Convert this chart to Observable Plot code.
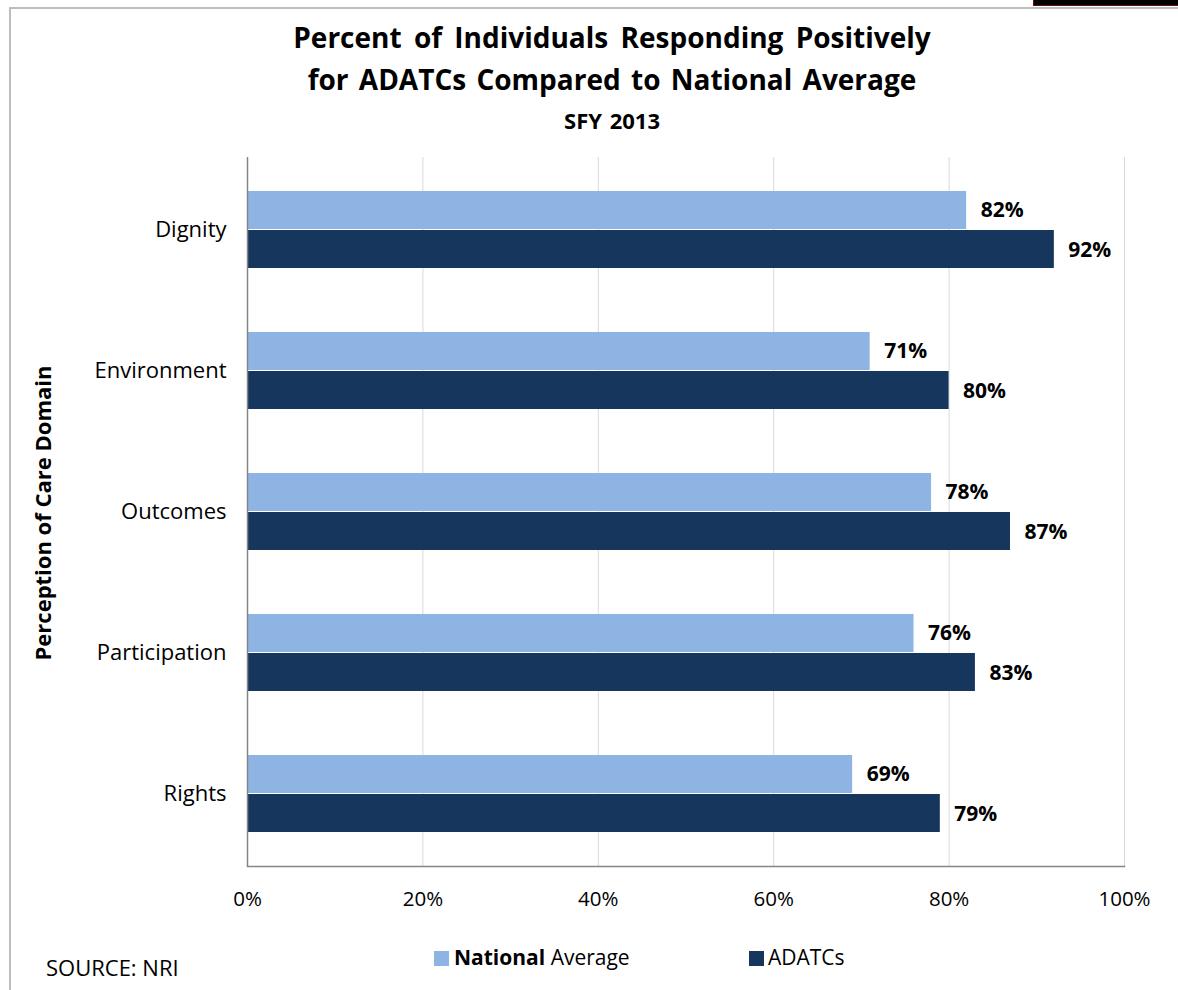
<!DOCTYPE html>
<html>
<head>
<meta charset="utf-8">
<script src="https://cdn.jsdelivr.net/npm/d3@7"></script>
<script src="https://cdn.jsdelivr.net/npm/@observablehq/plot@0.6"></script>
<style>
  html, body { margin: 0; padding: 0; background: #fff; }
  body { width: 1178px; height: 990px; overflow: hidden; position: relative; font-family: "Open Sans", Lato, sans-serif; color: #000; }
  .abs { position: absolute; white-space: nowrap; }
  #frame { position: absolute; left: 9px; top: 7px; width: 1300px; height: 1100px; border-left: 2px solid #bdbdbd; border-top: 2px solid #bdbdbd; }
  #corner { position: absolute; left: 1033px; top: 0; width: 150px; height: 5px; background: #000; border-left: 1px solid #6b0a0a; border-bottom: 1px solid #6b0a0a; }
  #chart { position: absolute; left: 0; top: 0; }
  .title { left: 12px; width: 1200px; text-align: center; font-weight: 700; }
  .swatch { position: absolute; width: 15px; height: 15px; }
</style>
</head>
<body>
<div id="frame"></div>
<div id="corner"></div>
<div id="chart"></div>
<div class="abs title" style="top:18px; font-size:28px; line-height:38px; word-spacing:5px;">Percent of Individuals Responding Positively</div>
<div class="abs title" style="top:60px; font-size:28px; line-height:38px; word-spacing:3px;">for ADATCs Compared to National Average</div>
<div class="abs title" style="top:105px; font-size:22px; line-height:30px; word-spacing:2px;">SFY 2013</div>
<div class="abs" style="left:42px; top:513px; transform: translate(-50%,-50%) rotate(-90deg); font-size:22px; font-weight:700;">Perception of Care Domain</div>
<div class="abs" style="left:46px; top:953px; font-size:22px; line-height:28px;">SOURCE: NRI</div>
<div id="legend"></div>
<script>
// Survey domains and percent responding positively, SFY 2013
const categories = ["Dignity", "Environment", "Outcomes", "Participation", "Rights"];
const seriesNames = ["National Average", "ADATCs"];
const nationalAverage = [82, 71, 78, 76, 69];
const adatcs = [92, 80, 87, 83, 79];
const xTicks = [0, 20, 40, 60, 80, 100];

const colors = ["#8db4e2", "#17365d"];
const font = "'Open Sans', Lato, sans-serif";

const nationalRows = categories.map((c, i) => ({domain: c, series: seriesNames[0], value: nationalAverage[i]}));
const adatcRows = categories.map((c, i) => ({domain: c, series: seriesNames[1], value: adatcs[i]}));

const chart = Plot.plot({
  width: 1178,
  height: 990,
  marginLeft: 247,
  marginRight: 54,
  marginTop: 157,
  marginBottom: 124,
  style: {fontFamily: font, background: "transparent", color: "#000"},
  x: {domain: [0, 100], label: null},
  y: {domain: categories, padding: 0, label: null},
  marks: [
    Plot.gridX(xTicks.slice(1), {stroke: "#d9d9d9", strokeOpacity: 1}),
    Plot.barX(nationalRows, {x: "value", y: "domain", fill: colors[0], insetTop: 32, insetBottom: 71}),
    Plot.barX(adatcRows, {x: "value", y: "domain", fill: colors[1], insetTop: 71, insetBottom: 32}),
    Plot.ruleX([0], {stroke: "#868686", strokeWidth: 1.5}),
    Plot.frame({anchor: "bottom", stroke: "#868686", strokeWidth: 1.5}),
    Plot.axisX(xTicks, {tickSize: 0, tickPadding: 25, fontSize: 20.5, tickFormat: d => d + "%", label: null}),
    Plot.axisY({tickSize: 0, tickPadding: 21, fontSize: 22, label: null}),
    Plot.text(nationalRows, {x: "value", y: "domain", text: d => d.value + "%", dx: 14, dy: -19.5, textAnchor: "start", fontWeight: "bold", fontSize: 21, fill: "#000"}),
    Plot.text(adatcRows, {x: "value", y: "domain", text: d => d.value + "%", dx: 14, dy: 20, textAnchor: "start", fontWeight: "bold", fontSize: 21, fill: "#000"})
  ]
});
document.getElementById("chart").appendChild(chart);

// Legend below the plot
const legend = document.getElementById("legend");
const legendPos = [{sx: 434, tx: 454}, {sx: 749, tx: 768}];
seriesNames.forEach((name, i) => {
  const sw = document.createElement("div");
  sw.className = "swatch";
  sw.style.left = legendPos[i].sx + "px";
  sw.style.top = "951px";
  sw.style.background = colors[i];
  legend.appendChild(sw);
  const t = document.createElement("div");
  t.className = "abs";
  t.style.left = legendPos[i].tx + "px";
  t.style.top = "943px";
  t.style.fontSize = "21px";
  t.style.lineHeight = "28px";
  const words = name.split(" ");
  if (words.length > 1) {
    const b = document.createElement("b");
    b.textContent = words[0];
    t.appendChild(b);
    t.appendChild(document.createTextNode(" " + words.slice(1).join(" ")));
  } else {
    t.textContent = name;
  }
  legend.appendChild(t);
});
</script>
</body>
</html>
